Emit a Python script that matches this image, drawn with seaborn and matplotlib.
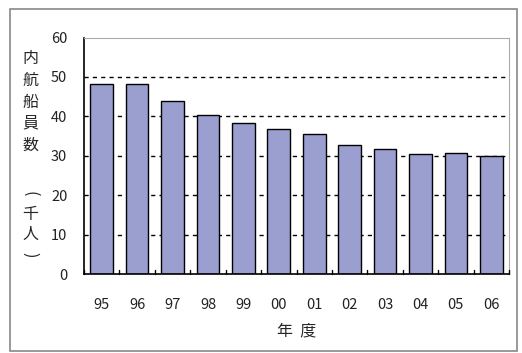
import matplotlib
matplotlib.use("Agg")
import matplotlib.pyplot as plt
import matplotlib.patches as mpatches
import seaborn as sns
import pandas as pd

years = ["95", "96", "97", "98", "99", "00", "01", "02", "03", "04", "05", "06"]
crew = [48.3, 48.3, 43.9, 40.4, 38.4, 36.7, 35.4, 32.7, 31.7, 30.4, 30.6, 30.0]
yticks = [0, 10, 20, 30, 40, 50, 60]

sns.set_theme(style="white")
plt.rcParams["font.family"] = ["Noto Sans CJK JP", "DejaVu Sans"]

df = pd.DataFrame({"year": years, "crew": crew})

W, H = 522, 353
fig = plt.figure(figsize=(W / 100, H / 100), dpi=100)
ax = fig.add_axes([84 / W, 1 - 274 / H, 425 / W, 236.5 / H])

for v in yticks[1:-1]:
    ax.axhline(v, color="black", lw=1.0, ls=(0, (3, 3)), zorder=0)

sns.barplot(data=df, x="year", y="crew", color="#9a9fd0", saturation=1,
            edgecolor="black", linewidth=1.0, width=0.64, ax=ax, zorder=2)

ax.set_ylim(0, 60)
ax.set_xlim(-0.5, len(years) - 0.5)
ax.set_yticks(yticks)
ax.set_yticklabels([str(t) for t in yticks], fontsize=10.5, color="#222222")
ax.set_xticks(range(len(years)))
ax.set_xticklabels(years, fontsize=10.5, color="#222222")
ax.tick_params(axis="x", length=0, pad=17)
ax.tick_params(axis="y", direction="in", length=4, width=1, pad=12)
# category boundary ticks along the base
for i in range(len(years) + 1):
    ax.plot([i - 0.5, i - 0.5], [0, 1.0], color="black", lw=1, zorder=3,
            clip_on=False)
ax.set_xlabel("年  度", fontsize=11.5, labelpad=8)
ax.set_ylabel("")

for side in ["left", "bottom"]:
    ax.spines[side].set_color("black")
    ax.spines[side].set_linewidth(1.2)
for side in ["top", "right"]:
    ax.spines[side].set_color("#aaaaaa")
    ax.spines[side].set_linewidth(0.8)
ax.spines["top"].set_linestyle((0, (1, 1)))

# vertical axis title, one glyph per row; brackets turned for vertical writing
label_chars = ["内", "航", "船", "員", "数", "(", "千", "人", ")"]
label_rows = [58, 80, 102, 123, 145, 194, 214, 234, 255]
for ch, yy in zip(label_chars, label_rows):
    rot = -90 if ch in "()" else 0
    fig.text(30 / W, 1 - yy / H, ch, ha="center", va="center",
             fontsize=11.5, rotation=rot, rotation_mode="anchor")

fig.patches.append(mpatches.Rectangle((10 / W, 2 / H), 507 / W, 342 / H,
                                      transform=fig.transFigure, fill=False,
                                      edgecolor="#888888", lw=1.2))

fig.savefig("out.png", dpi=100)
